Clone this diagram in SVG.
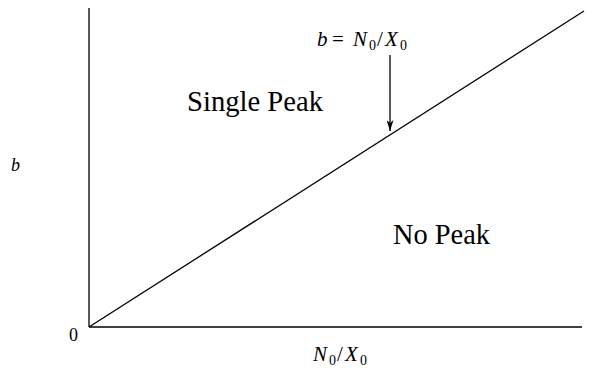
<svg xmlns="http://www.w3.org/2000/svg" width="592" height="376" viewBox="0 0 592 376">
<defs>
<marker id="ah" markerWidth="11" markerHeight="7" refX="11" refY="3.5" orient="auto" markerUnits="userSpaceOnUse" viewBox="0 0 11 7">
<path d="M0,0 L11,3.5 L0,7 L3,3.5 Z" fill="#000"/>
</marker>
</defs>
<style>
.ln{stroke:#000;stroke-width:1.3;fill:none}
.t{font-family:'Liberation Serif','DejaVu Serif',serif;fill:#000}
.i{font-style:italic}
.s{font-size:14px}
</style>
<rect width="592" height="376" fill="#fff"/>
<g id="connectors">
<line class="ln" x1="89" y1="8" x2="89" y2="327"/>
<line class="ln" x1="89" y1="327" x2="582" y2="327"/>
<line class="ln" x1="89" y1="327" x2="584" y2="11"/>
<line class="ln" x1="390" y1="55" x2="390" y2="131" marker-end="url(#ah)"/>
</g>
<g id="labels">
<text class="t" x="187" y="111" font-size="29" textLength="136" lengthAdjust="spacingAndGlyphs">Single Peak</text>
<text class="t" x="393" y="244" font-size="29" textLength="97" lengthAdjust="spacingAndGlyphs">No Peak</text>
<text class="t" font-size="21" y="46"><tspan class="i" x="317">b</tspan><tspan x="332">=</tspan><tspan class="i" x="353">N</tspan><tspan class="s" x="369" dy="4">0</tspan><tspan x="377" dy="-4">/</tspan><tspan class="i" x="385">X</tspan><tspan class="s" x="400" dy="4">0</tspan></text>
<text class="t i" x="11" y="171" font-size="18">b</text>
<text class="t" x="69" y="341" font-size="18">0</text>
<text class="t" font-size="21" y="361"><tspan class="i" x="313">N</tspan><tspan class="s" x="329" dy="4">0</tspan><tspan x="337" dy="-4">/</tspan><tspan class="i" x="345">X</tspan><tspan class="s" x="360" dy="4">0</tspan></text>
</g>
</svg>
